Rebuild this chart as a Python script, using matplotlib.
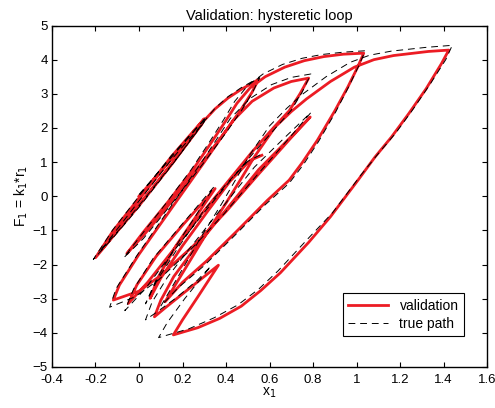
import numpy as np
import matplotlib
matplotlib.use("Agg")
import matplotlib.pyplot as plt
from matplotlib.ticker import FormatStrFormatter

# validation path (x1, F1)
val_x = [0.00, 0.15, 0.30, 0.15, 0.00, -0.12, -0.20, -0.12, 0.00, 0.15, 0.29, 0.15, 0.00, -0.10, -0.17,
         -0.08, 0.05, 0.18, 0.30,
         0.35, 0.41, 0.47, 0.52, 0.549,
         0.52, 0.47, 0.40, 0.30, 0.20, 0.10, 0.02, -0.056,
         0.02, 0.135, 0.25, 0.33, 0.40, 0.45, 0.51, 0.58, 0.67, 0.76, 0.85, 0.94, 1.033,
         1.005, 0.96, 0.90, 0.82, 0.75, 0.69, 0.59, 0.45, 0.31, 0.20, 0.12,
         0.20, 0.30, 0.40, 0.47, 0.53, 0.626, 0.70, 0.77, 0.88, 0.99, 1.08, 1.17, 1.33, 1.424,
         1.39, 1.32, 1.24, 1.16, 1.085, 1.01, 0.88, 0.78, 0.65, 0.56, 0.47, 0.37, 0.27, 0.158,
         0.20, 0.27, 0.365, 0.30, 0.20, 0.12, 0.071,
         0.10, 0.16, 0.25, 0.40, 0.55, 0.68, 0.787,
         0.70, 0.55, 0.40, 0.25, 0.10, 0.00, -0.118,
         -0.09, 0.00, 0.15, 0.30, 0.433, 0.52, 0.62, 0.70, 0.78,
         0.74, 0.69, 0.62, 0.52, 0.42, 0.30, 0.16, 0.04, -0.049,
         -0.01, 0.08, 0.20, 0.35, 0.27, 0.17, 0.09, 0.051,
         0.10, 0.20, 0.32, 0.42, 0.511, 0.565]
val_y = [0.00, 1.10, 2.27, 1.17, -0.05, -1.02, -1.80, -1.18, -0.28, 0.93, 2.12, 1.12, -0.10, -0.92, -1.55,
         -0.86, 0.15, 1.20, 2.22,
         2.56, 2.88, 3.13, 3.31, 3.42,
         3.05, 2.55, 1.92, 1.08, 0.25, -0.55, -1.15, -1.68,
         -1.05, -0.15, 0.80, 1.55, 2.22, 2.72, 3.17, 3.50, 3.78, 3.97, 4.09, 4.16, 4.19,
         3.78, 3.20, 2.50, 1.64, 0.98, 0.47, -0.12, -1.02, -1.90, -2.52, -3.09,
         -2.25, -1.20, -0.20, 0.52, 1.15, 2.03, 2.48, 2.85, 3.36, 3.78, 4.00, 4.12, 4.24, 4.28,
         3.88, 3.15, 2.42, 1.73, 1.15, 0.50, -0.60, -1.35, -2.24, -2.76, -3.22, -3.58, -3.85, -4.06,
         -3.62, -2.95, -2.02, -2.35, -2.86, -3.27, -3.53,
         -3.05, -2.35, -1.58, -0.40, 0.78, 1.62, 2.32,
         1.72, 0.65, -0.45, -1.45, -2.32, -2.78, -3.04,
         -2.60, -1.70, -0.35, 1.00, 2.22, 2.78, 3.17, 3.36, 3.46,
         3.00, 2.50, 2.02, 1.30, 0.52, -0.42, -1.55, -2.52, -3.14,
         -2.60, -1.75, -0.85, 0.225, -0.52, -1.45, -2.35, -2.99,
         -2.40, -1.45, -0.40, 0.45, 1.05, 1.20]

# true path (dashed)
true_x = [0.00, 0.15, 0.31, 0.15, 0.00, -0.12, -0.21, -0.12, 0.00, 0.15, 0.30, 0.15, 0.00, -0.10, -0.18,
          -0.08, 0.05, 0.18, 0.30,
          0.35, 0.41, 0.47, 0.52, 0.555,
          0.52, 0.47, 0.40, 0.30, 0.20, 0.10, 0.02, -0.07,
          0.01, 0.125, 0.24, 0.32, 0.39, 0.44, 0.50, 0.57, 0.66, 0.75, 0.84, 0.94, 1.04,
          1.01, 0.965, 0.905, 0.825, 0.755, 0.69, 0.58, 0.44, 0.30, 0.18, 0.10,
          0.18, 0.28, 0.38, 0.45, 0.51, 0.60, 0.68, 0.75, 0.86, 0.97, 1.06, 1.16, 1.32, 1.44,
          1.41, 1.34, 1.26, 1.18, 1.10, 1.02, 0.89, 0.78, 0.64, 0.55, 0.455, 0.345, 0.23, 0.09,
          0.13, 0.21, 0.33, 0.27, 0.17, 0.08, 0.03,
          0.06, 0.13, 0.23, 0.38, 0.53, 0.67, 0.79,
          0.69, 0.54, 0.39, 0.24, 0.09, -0.02, -0.135,
          -0.105, -0.01, 0.14, 0.29, 0.42, 0.51, 0.61, 0.70, 0.79,
          0.75, 0.70, 0.625, 0.52, 0.415, 0.29, 0.15, 0.03, -0.065,
          -0.025, 0.065, 0.19, 0.345, 0.26, 0.16, 0.075, 0.03,
          0.08, 0.18, 0.30, 0.41, 0.50, 0.56]
true_y = [0.05, 1.15, 2.32, 1.20, 0.00, -0.98, -1.85, -1.22, -0.32, 0.90, 2.18, 1.08, -0.14, -0.96, -1.62,
          -0.90, 0.12, 1.16, 2.20,
          2.58, 2.92, 3.18, 3.36, 3.47,
          3.02, 2.50, 1.86, 1.00, 0.18, -0.62, -1.24, -1.80,
          -1.14, -0.20, 0.78, 1.55, 2.25, 2.78, 3.24, 3.58, 3.86, 4.04, 4.15, 4.22, 4.26,
          3.82, 3.22, 2.48, 1.60, 0.92, 0.38, -0.25, -1.15, -2.03, -2.68, -3.22,
          -2.35, -1.25, -0.22, 0.55, 1.22, 2.06, 2.58, 2.98, 3.50, 3.92, 4.13, 4.25, 4.36, 4.42,
          4.00, 3.30, 2.55, 1.85, 1.25, 0.62, -0.48, -1.22, -2.18, -2.72, -3.18, -3.56, -3.88, -4.14,
          -3.70, -3.00, -2.05, -2.45, -2.98, -3.40, -3.62,
          -3.10, -2.38, -1.55, -0.35, 0.85, 1.72, 2.45,
          1.70, 0.60, -0.52, -1.55, -2.45, -2.95, -3.25,
          -2.70, -1.74, -0.36, 1.02, 2.28, 2.86, 3.27, 3.48, 3.58,
          3.05, 2.52, 1.98, 1.22, 0.42, -0.55, -1.68, -2.70, -3.35,
          -2.72, -1.82, -0.88, 0.28, -0.58, -1.55, -2.50, -3.15,
          -2.50, -1.50, -0.40, 0.42, 1.02, 1.22]

x_ticks = np.arange(-0.4, 1.61, 0.2)
y_ticks = np.arange(-5, 6, 1)

plt.rcParams['font.family'] = ['Liberation Sans', 'DejaVu Sans']
plt.rcParams['font.size'] = 10

fig = plt.figure(figsize=(4.95, 4.08), dpi=100)
ax = fig.add_axes([0.105, 0.1005, 0.879, 0.837])

ax.plot(val_x, val_y, color='#ec1c24', lw=2.0, label='validation')
ax.plot(true_x, true_y, color='black', lw=0.7, linestyle=(0, (7, 5)), label='true path')

ax.set_xlim(-0.4, 1.6)
ax.set_ylim(-5, 5)
ax.set_xticks(x_ticks)
ax.set_yticks(y_ticks)
ax.xaxis.set_major_formatter(FormatStrFormatter('%g'))
ax.tick_params(direction='in', top=True, right=True, length=3.5, width=0.8, pad=3, labelsize=9.5)
ax.tick_params(axis='x', pad=5)
for s in ax.spines.values():
    s.set_linewidth(1.0)

ax.set_title('Validation: hysteretic loop', fontsize=10.5, pad=4)
ax.set_xlabel('x$_1$', labelpad=0)
ax.set_ylabel('F$_1$ = k$_1$*r$_1$', labelpad=2)

leg = ax.legend(loc='lower right', bbox_to_anchor=(0.947, 0.0906), borderaxespad=0,
                fancybox=False, edgecolor='black', framealpha=1, handlelength=2.9,
                borderpad=0.4, labelspacing=0.25, fontsize=10)
leg.get_frame().set_linewidth(0.8)

fig.savefig('out.png', dpi=100)
